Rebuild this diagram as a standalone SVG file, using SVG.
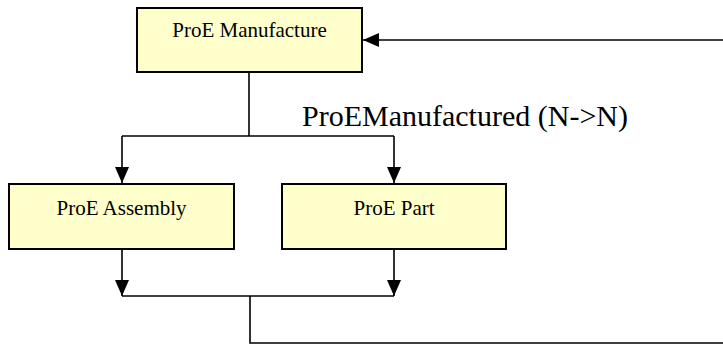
<svg xmlns="http://www.w3.org/2000/svg" width="723" height="344" viewBox="0 0 723 344">
  <style>
    .box { fill: #ffffcc; stroke: #000000; stroke-width: 2; }
    .lbl { font-family: "Liberation Serif", "Times New Roman", serif; font-size: 21px; fill: #000000; text-anchor: middle; }
    .rel { font-family: "Liberation Serif", "Times New Roman", serif; font-size: 30px; fill: #000000; }
    .wire { fill: none; stroke: #000000; stroke-width: 1.6; }
  </style>
  <defs>
    <marker id="arrow" viewBox="0 0 16 14" refX="16" refY="7" markerWidth="16" markerHeight="14" markerUnits="userSpaceOnUse" orient="auto">
      <path d="M0,0 L16,7 L0,14 Z" fill="#000000"/>
    </marker>
  </defs>
  <rect width="723" height="344" fill="#ffffff"/>

  <g id="connectors">
    <!-- Manufacture splits into Assembly and Part -->
    <path class="wire" d="M249,72 V136"/>
    <path class="wire" d="M122,136 H394"/>
    <path class="wire" d="M122,136 V183" marker-end="url(#arrow)"/>
    <path class="wire" d="M394,136 V183" marker-end="url(#arrow)"/>
    <!-- Assembly and Part merge back -->
    <path class="wire" d="M122,249 V296" marker-end="url(#arrow)"/>
    <path class="wire" d="M394,249 V296" marker-end="url(#arrow)"/>
    <path class="wire" d="M122,296 H394"/>
    <path class="wire" d="M250,296 V343 H723"/>
    <!-- return path into Manufacture -->
    <path class="wire" d="M723,40 H363" marker-end="url(#arrow)"/>
  </g>

  <text class="rel" x="302" y="126">ProEManufactured (N-&gt;N)</text>

  <g id="proe-manufacture">
    <rect class="box" x="137" y="8" width="225" height="64"/>
    <text class="lbl" x="249.5" y="37">ProE Manufacture</text>
  </g>
  <g id="proe-assembly">
    <rect class="box" x="9" y="184" width="225" height="65"/>
    <text class="lbl" x="121.5" y="215">ProE Assembly</text>
  </g>
  <g id="proe-part">
    <rect class="box" x="282" y="184" width="224" height="65"/>
    <text class="lbl" x="394" y="215">ProE Part</text>
  </g>
</svg>
